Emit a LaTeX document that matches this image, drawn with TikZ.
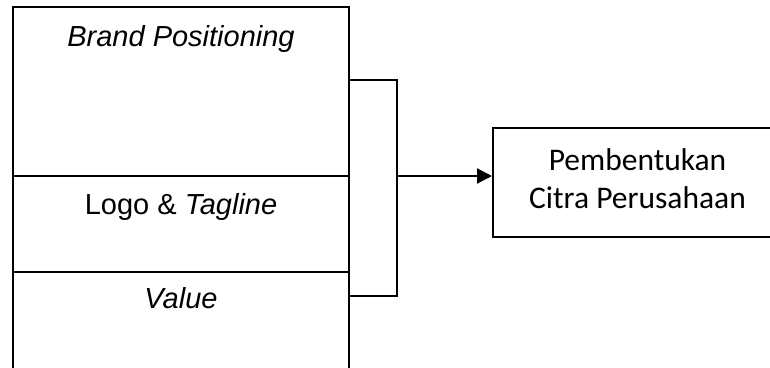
\documentclass[tikz,border=0pt]{standalone}
\usepackage{fontspec}
\setmainfont{Liberation Sans}
\newfontfamily\calibrifont{Carlito}
\usetikzlibrary{arrows.meta}
\begin{document}
\begin{tikzpicture}[x=1pt,y=-1pt,line width=2pt,
  box/.style={draw,rectangle,inner sep=0pt,line width=2pt},
  lbl/.style={anchor=base,inner sep=0pt,font=\fontsize{29}{34}\selectfont},
  lbltwo/.style={anchor=base,inner sep=0pt,font=\calibrifont\fontsize{31.5}{38}\selectfont},
  conn/.style={draw,line width=2pt}]
\useasboundingbox (0,0) rectangle (770,367);
\clip (0,0) rectangle (770,367);
% left stacked boxes
\node[box,minimum width=336pt,minimum height=169pt] (bp) at (181,91.5) {};
\node[box,minimum width=336pt,minimum height=96pt] (lt) at (181,224) {};
\node[box,minimum width=336pt,minimum height=128pt] (va) at (181,336) {};
% right box
\node[box,minimum width=289pt,minimum height=109pt] (cit) at (637.5,182.5) {};
% labels
\node[lbl] (t1) at (181,46) {\itshape Brand Positioning};
\node[lbl] (t2) at (181,214) {Logo \& \textit{Tagline}};
\node[lbl] (t3) at (181,308) {\itshape Value};
\node[lbltwo] (t4) at (637.5,170) {Pembentukan};
\node[lbltwo] (t5) at (637.5,208) {Citra Perusahaan};
% bracket and arrow
\coordinate (bt) at (349,80);
\coordinate (bb) at (349,296);
\coordinate (bm) at (397,176);
\draw[conn] (bt) -| (bm) |- (bb);
\draw[conn,-{Triangle[length=15pt,width=15pt]}] (bm) -- (bm -| cit.west);
\end{tikzpicture}
\end{document}
